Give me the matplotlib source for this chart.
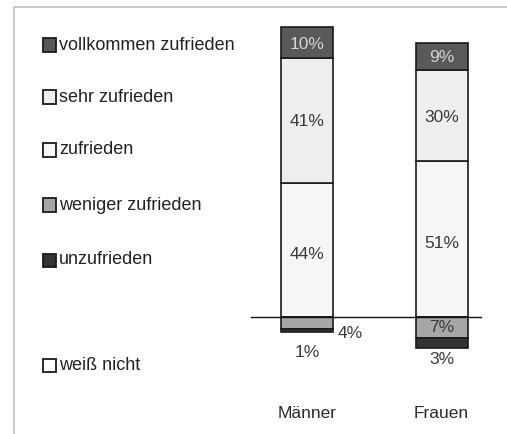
import matplotlib
matplotlib.use("Agg")
import matplotlib.pyplot as plt
from matplotlib.patches import Rectangle
from matplotlib.lines import Line2D
import numpy as np

plt.rcParams['font.family'] = ['Liberation Sans', 'DejaVu Sans']

categories = ["Männer", "Frauen"]
legend_labels = ["vollkommen zufrieden", "sehr zufrieden", "zufrieden",
                 "weniger zufrieden", "unzufrieden", "weiß nicht"]
vollkommen = [10, 9]
sehr = [41, 30]
zufrieden = [44, 51]
weniger = [4, 7]
unzufrieden = [1, 3]

colors = {"vollkommen": "#595959", "sehr": "#eeeeee", "zufrieden": "#f6f6f6",
          "weniger": "#a6a6a6", "unzufrieden": "#333333", "weiss": "#ffffff"}

W, H = 507, 434
fig = plt.figure(figsize=(W / 100, H / 100), dpi=100)
ax = fig.add_axes([0, 0, 1, 1])
ax.set_axis_off()

px_per_pct = 3.05
base_px = 317
px_per_x = 134.5
x0_px = 307
ax.set_ylim(-(H - base_px) / px_per_pct, base_px / px_per_pct)
ax.set_xlim(-x0_px / px_per_x, (W - x0_px) / px_per_x)

x = np.arange(len(categories))
bw = 52 / px_per_x
ec = "#1a1a1a"
lw = 1.2

# positive stack
ax.bar(x, zufrieden, bw, bottom=0, color=colors["zufrieden"], edgecolor=ec, linewidth=lw)
ax.bar(x, sehr, bw, bottom=zufrieden, color=colors["sehr"], edgecolor=ec, linewidth=lw)
bot3 = np.array(zufrieden) + np.array(sehr)
ax.bar(x, vollkommen, bw, bottom=bot3, color=colors["vollkommen"], edgecolor=ec, linewidth=lw)
# negative stack
ax.bar(x, -np.array(weniger), bw, bottom=0, color=colors["weniger"], edgecolor=ec, linewidth=lw)
ax.bar(x, -np.array(unzufrieden), bw, bottom=-np.array(weniger),
       color=colors["unzufrieden"], edgecolor=ec, linewidth=lw)

# baseline
ax.plot([(251 - x0_px) / px_per_x, (481 - x0_px) / px_per_x], [0, 0],
        color="#111111", linewidth=1.0, zorder=5)

fs = 12.5
tc = "#3a3a3a"
for i in range(len(categories)):
    ax.text(x[i], zufrieden[i] / 2 - 1.5, f"{zufrieden[i]}%", ha="center", va="center", fontsize=fs, color=tc)
    ax.text(x[i], zufrieden[i] + sehr[i] / 2 - 0.5, f"{sehr[i]}%", ha="center", va="center", fontsize=fs, color=tc)
    ax.text(x[i], bot3[i] + vollkommen[i] / 2 - 0.5, f"{vollkommen[i]}%", ha="center", va="center",
            fontsize=fs, color="#d4d4d4")

# Männer small values
ax.text(x[0] + bw / 2 + 0.035, -weniger[0] - 1.3, f"{weniger[0]}%", ha="left", va="center", fontsize=fs, color=tc)
ax.text(x[0], -weniger[0] - unzufrieden[0] - 6.5, f"{unzufrieden[0]}%", ha="center", va="center", fontsize=fs, color=tc)
# Frauen small values
ax.text(x[1], -weniger[1] / 2, f"{weniger[1]}%", ha="center", va="center", fontsize=fs, color=tc)
ax.text(x[1], -weniger[1] - unzufrieden[1] - 4.0, f"{unzufrieden[1]}%", ha="center", va="center", fontsize=fs, color=tc)

# category labels
for i, c in enumerate(categories):
    ax.text(x[i], -31.5, c, ha="center", va="center", fontsize=fs, color="#2a2a2a")

# legend (manual, figure pixel coordinates)
leg_cols = [colors["vollkommen"], colors["sehr"], colors["zufrieden"],
            colors["weniger"], colors["unzufrieden"], colors["weiss"]]
leg_y = [45, 97, 150, 205, 260, 365]
for col, lab, yy in zip(leg_cols, legend_labels, leg_y):
    fig.patches.append(Rectangle((42.5 / W, (H - yy - 6.5) / H), 13 / W, 13 / H,
                                 transform=fig.transFigure, facecolor=col,
                                 edgecolor="#1a1a1a", linewidth=1.3))
    fig.text(59 / W, (H - yy) / H, lab, ha="left", va="center", fontsize=13, color="#222222")

# frame lines
fig.lines.append(Line2D([14 / W, 14 / W], [0, (H - 7) / H], transform=fig.transFigure,
                        color="#bfbfbf", linewidth=1.2))
fig.lines.append(Line2D([14 / W, 1], [(H - 7) / H, (H - 7) / H], transform=fig.transFigure,
                        color="#bfbfbf", linewidth=1.2))

fig.savefig("out.png", dpi=100, facecolor="white")
